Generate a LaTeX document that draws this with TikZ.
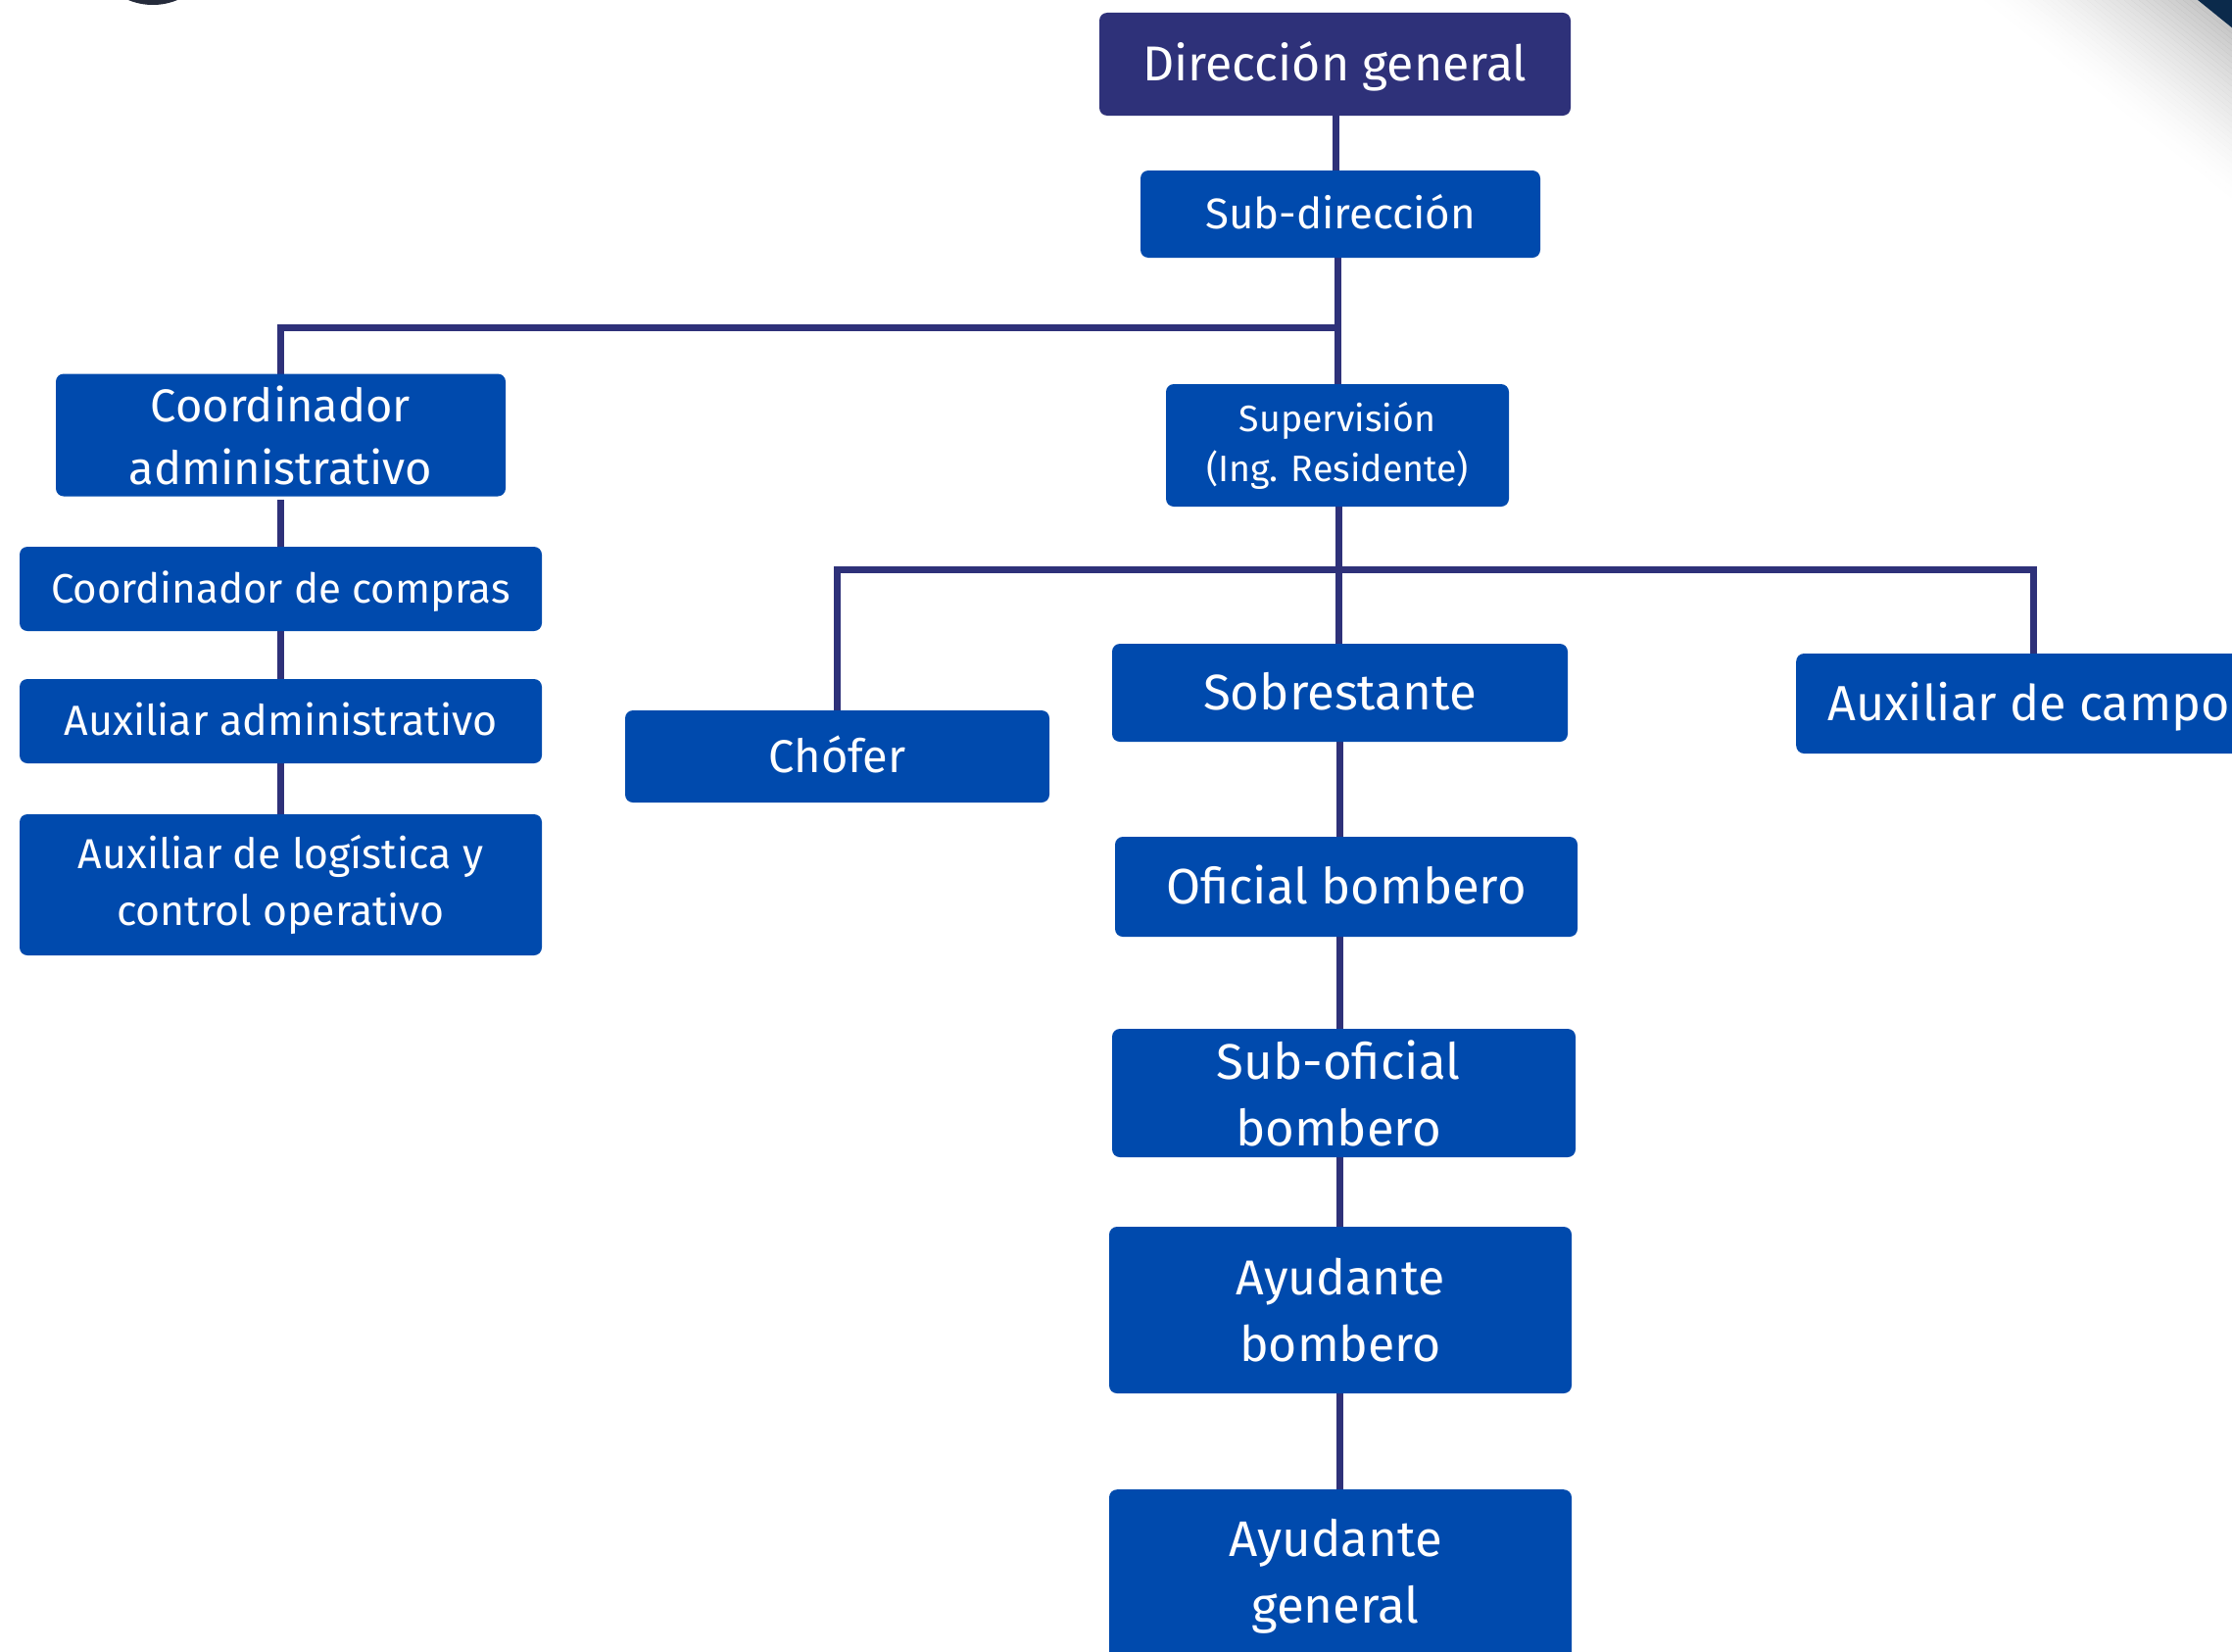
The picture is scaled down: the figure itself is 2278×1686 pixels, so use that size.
\documentclass[tikz,border=0pt]{standalone}
\usepackage{fontspec}
\setmainfont{Fira Sans}
\usetikzlibrary{backgrounds}
\definecolor{boxblue}{HTML}{004AAD}
\definecolor{topblue}{HTML}{2E3179}
\definecolor{linecol}{HTML}{2E3179}
\definecolor{bandcol}{HTML}{0B2A4B}
\definecolor{blobcol}{HTML}{252B3B}
\newcommand{\fsz}[2]{\fontsize{#1}{#2}\selectfont}
\tikzset{
  orgbox/.style={fill=boxblue, rounded corners=8pt, text=white, inner sep=0pt, align=center},
  conn/.style={draw=linecol, line width=7pt},
  plaintxt/.style={text=white, inner sep=0pt, align=center}
}
\begin{document}
\begin{tikzpicture}[x=1pt,y=-1pt]
\useasboundingbox (0,0) rectangle (2278,1686);
\clip (0,0) rectangle (2278,1686);

% nodes
\node (dg) [orgbox, text height=45pt, text depth=10.5pt, fill=topblue, minimum width=481, minimum height=105, font=\fsz{50}{60}] at (1362.5,65.5) {Dirección general};
\node (sd) [orgbox, text height=39.4pt, text depth=9.2pt, minimum width=408, minimum height=89, font=\fsz{43.8}{54}] at (1368,218.5) {Sub-dirección};
\node (ca) [orgbox, minimum width=459, minimum height=125, font=\fsz{47}{64}] at (286.5,444) {Coordinador\\administrativo};
\node[draw=none, fill=none, minimum width=459, minimum height=125, inner sep=0pt] (cabox) at (286.5,447.5) {};
\node (sup) [orgbox, minimum width=350, minimum height=125, font=\fsz{37.5}{51}] at (1365,454.5) {Supervisión\\(Ing. Residente)};
\node (cc) [orgbox, text height=37.8pt, text depth=8.8pt, minimum width=533, minimum height=86, font=\fsz{42}{50}] at (286.5,601) {Coordinador de compras};
\node (aa) [orgbox, text height=38.7pt, text depth=9pt, minimum width=533, minimum height=86, font=\fsz{43}{52}] at (286.5,736) {Auxiliar administrativo};
\node (al) [orgbox, minimum width=533, minimum height=144, font=\fsz{42.8}{58}] at (286.5,903) {Auxiliar de logística y\\control operativo};
\node (ch) [orgbox, text height=42.3pt, text depth=9.9pt, minimum width=433, minimum height=94, font=\fsz{47}{56}] at (854.5,772) {Chófer};
\node (so) [orgbox, text height=45.9pt, text depth=10.7pt, minimum width=465, minimum height=100, font=\fsz{51}{60}] at (1367.5,707) {Sobrestante};
\node (ac) [orgbox, text height=45.5pt, text depth=10.6pt, anchor=west, inner xsep=32pt, minimum height=102, font=\fsz{50.4}{60}] at (1833,718) {Auxiliar de campo};
\node (ob) [orgbox, text height=45.7pt, text depth=10.7pt, minimum width=472, minimum height=102, font=\fsz{50.8}{60}] at (1374,905) {Oficial bombero};
\node (sob) [orgbox, minimum width=473, minimum height=131] at (1371.5,1115.5) {};
\node (sobt) [plaintxt, font=\fsz{51}{68}] at (1366,1115.5) {Sub-oficial\\bombero};
\node (ab) [orgbox, minimum width=472, minimum height=170, font=\fsz{50}{68}] at (1368,1337) {Ayudante\\bombero};
\node (ag) [orgbox, anchor=north, minimum width=472, minimum height=240] at (1368,1520) {};
\node (agt) [plaintxt, font=\fsz{51}{68}] at (1363,1609) {Ayudante\\general};

\coordinate (j1) at (1365,334);
\coordinate (j2) at (1366,581);
\coordinate (acj) at (2075,581);
\coordinate (acn) at (2075,667);

\begin{scope}[on background layer]
\fill[white] (0,0) rectangle (2278,1686);
% decorative corner shapes
\fill[blobcol] (156,-60) circle (65);
\foreach \k in {0,...,29}{
  \pgfmathsetmacro{\aa}{2243-\k*226/30}
  \pgfmathsetmacro{\ab}{2243-(\k+1)*226/30}
  \pgfmathsetmacro{\op}{0.22*(1-\k/30)^1.6}
  \fill[black, opacity=\op] (\aa,0) -- (2278,{0.8*(2278-\aa)}) -- (2278,{0.8*(2278-\ab)}) -- (\ab,0) -- cycle;
}
\fill[bandcol] (2243,0) -- (2290,0) -- (2290,38) -- cycle;
% connectors
\draw[conn] (dg.south -| 1363,0) -- (1363,0 |- sd.north);
\draw[conn] (sd.south -| j1) -- (j1) -- (j1 |- sup.north);
\draw[conn] (j1) -- (j1 -| cabox.north) -- (cabox.north);
\draw[conn] (cabox.south) -- (cc.north);
\draw[conn] (cc.south) -- (aa.north);
\draw[conn] (aa.south) -- (al.north);
\draw[conn] (sup.south -| j2) -- (j2) -- (j2 |- so.north);
\draw[conn] (ch.north) -- (ch.north |- j2) -- (acj) -- (acn);
\draw[conn] (so.south -| 1367,0) -- (1367,0 |- ob.north);
\draw[conn] (ob.south -| 1367,0) -- (1367,0 |- sob.north);
\draw[conn] (sob.south -| 1367,0) -- (1367,0 |- ab.north);
\draw[conn] (ab.south -| 1367,0) -- (1367,0 |- ag.north);
\end{scope}
\end{tikzpicture}
\end{document}
